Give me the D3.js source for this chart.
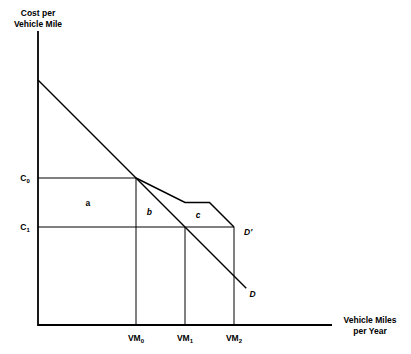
<!DOCTYPE html>
<html>
<head>
<meta charset="utf-8">
<script src="https://cdn.jsdelivr.net/npm/d3@7"></script>
<style>
  body { margin: 0; background: #fff; }
  text { font-family: "Liberation Sans", Arial, sans-serif; font-weight: bold; font-size: 8.5px; fill: #000; }
</style>
</head>
<body>
<div id="chart"></div>
<script>
// data (abstract units: vehicle miles, cost per mile)
const demand = [[0, 5], [4.25, 0.75]];
const demandShift = [[2, 3], [3, 2.5], [3.5, 2.5], [4, 2]];
const vmTicks = [{ v: 2, sub: "0" }, { v: 3, sub: "1" }, { v: 4, sub: "2" }];
const costTicks = [{ v: 3, sub: "0" }, { v: 2, sub: "1" }];
const areaLabels = [
  { x: 1.02, y: 2.42, t: "a", italic: false },
  { x: 2.27, y: 2.24, t: "b", italic: true },
  { x: 3.27, y: 2.18, t: "c", italic: true },
  { x: 4.29, y: 1.83, t: "D'", italic: true },
  { x: 4.38, y: 0.58, t: "D", italic: true }
];

const width = 411, height = 354;
const svg = d3.select("#chart").append("svg")
  .attr("width", width)
  .attr("height", height);

const x = d3.scaleLinear().domain([0, 6]).range([38, 332]);
const y = d3.scaleLinear().domain([0, 6]).range([325, 31]);

const line = d3.line().x(d => x(d[0])).y(d => y(d[1]));

// guide lines
svg.append("line")
  .attr("x1", x(0)).attr("x2", x(2))
  .attr("y1", y(3)).attr("y2", y(3))
  .attr("stroke", "#000").attr("stroke-width", 1);
svg.append("line")
  .attr("x1", x(0)).attr("x2", x(4))
  .attr("y1", y(2)).attr("y2", y(2))
  .attr("stroke", "#000").attr("stroke-width", 1);
svg.append("line")
  .attr("x1", x(2)).attr("x2", x(2))
  .attr("y1", y(3)).attr("y2", y(0))
  .attr("stroke", "#000").attr("stroke-width", 1);
svg.selectAll(".vline")
  .data([3, 4])
  .enter().append("line")
  .attr("x1", d => x(d)).attr("x2", d => x(d))
  .attr("y1", y(2)).attr("y2", y(0))
  .attr("stroke", "#000").attr("stroke-width", 1);

// demand curves
svg.append("path")
  .attr("d", line(demand))
  .attr("fill", "none").attr("stroke", "#000").attr("stroke-width", 1.5);
svg.append("path")
  .attr("d", line(demandShift))
  .attr("fill", "none").attr("stroke", "#000").attr("stroke-width", 1.5);

// axes
svg.append("line")
  .attr("x1", x(0)).attr("x2", x(0))
  .attr("y1", y(6)).attr("y2", y(0) + 1)
  .attr("stroke", "#000").attr("stroke-width", 1.8);
svg.append("line")
  .attr("x1", x(0)).attr("x2", x(6))
  .attr("y1", y(0)).attr("y2", y(0))
  .attr("stroke", "#000").attr("stroke-width", 1.8);

// axis titles
svg.append("text").attr("x", 38).attr("y", 16).attr("text-anchor", "middle").text("Cost per");
svg.append("text").attr("x", 38).attr("y", 27).attr("text-anchor", "middle").text("Vehicle Mile");
svg.append("text").attr("x", 370).attr("y", 323).attr("text-anchor", "middle").text("Vehicle Miles");
svg.append("text").attr("x", 370).attr("y", 334).attr("text-anchor", "middle").text("per Year");

// tick labels with subscripts
svg.selectAll(".vm")
  .data(vmTicks)
  .enter().append("text")
  .attr("x", d => x(d.v))
  .attr("y", 341)
  .attr("text-anchor", "middle")
  .each(function (d) {
    const t = d3.select(this);
    t.append("tspan").text("VM");
    t.append("tspan").attr("dy", 2).attr("font-size", "6px").text(d.sub);
  });

svg.selectAll(".cost")
  .data(costTicks)
  .enter().append("text")
  .attr("x", 25)
  .attr("y", d => y(d.v) + 3)
  .attr("text-anchor", "middle")
  .each(function (d) {
    const t = d3.select(this);
    t.append("tspan").text("C");
    t.append("tspan").attr("dy", 2).attr("font-size", "6px").text(d.sub);
  });

// area and curve labels
svg.selectAll(".lbl")
  .data(areaLabels)
  .enter().append("text")
  .attr("x", d => x(d.x))
  .attr("y", d => y(d.y))
  .attr("font-style", d => d.italic ? "italic" : "normal")
  .attr("text-anchor", "middle")
  .text(d => d.t);
</script>
</body>
</html>
